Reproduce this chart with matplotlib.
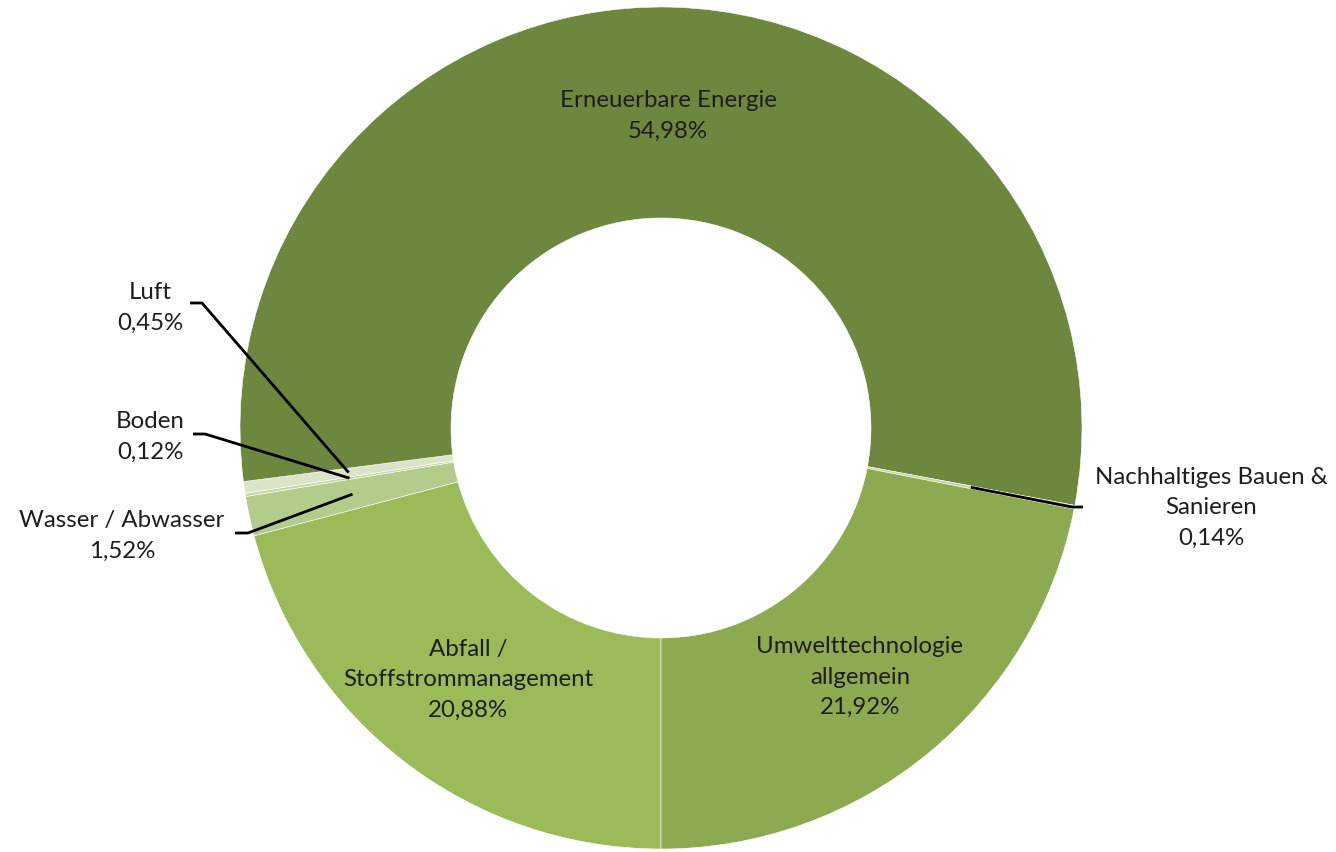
import numpy as np
import matplotlib
matplotlib.use("Agg")
import matplotlib.pyplot as plt

plt.rcParams['font.family'] = ['Lato', 'DejaVu Sans']

# order: clockwise starting at 6 o'clock
categories = ['Abfall /\nStoffstrommanagement', 'Wasser / Abwasser', 'Boden', 'Luft',
              'Erneuerbare Energie', 'Nachhaltiges Bauen &\nSanieren',
              'Umwelttechnologie\nallgemein']
shares = [20.88, 1.52, 0.12, 0.45, 54.98, 0.14, 21.92]
pct_labels = ['20,88%', '1,52%', '0,12%', '0,45%', '54,98%', '0,14%', '21,92%']
colors = ['#9BBB59', '#B3CB8B', '#C6D8A6', '#DAE5C7', '#6E873F', '#C0D49C', '#8DAA51']

W, H = 1336, 852
fig = plt.figure(figsize=(W / 100, H / 100), dpi=100)
ax = fig.add_axes([0, 0, 1, 1])

R = 421
ring = 211
cx, cy = 661, H - 428

wedges, _ = ax.pie(shares, colors=colors, startangle=-90, counterclock=False,
                   radius=R, center=(cx, cy), frame=True,
                   wedgeprops=dict(width=ring, edgecolor='white', linewidth=0.4))

txt = dict(ha='center', va='center', fontsize=17.3, color='#1e1e1e', linespacing=1.55)

# labels inside the ring
inside = {4: (668, H - 116), 6: (860, H - 677), 0: (468, H - 680)}
for i, (x, y) in inside.items():
    ax.text(x, y, categories[i] + '\n' + pct_labels[i], **txt)

# labels outside with leader lines: text pos, elbow, line end
outside = {
    3: ((150, H - 308), (202, H - 303), (190, H - 303)),
    2: ((150, H - 437), (205, H - 434), (193, H - 434)),
    1: ((122, H - 536), (248, H - 533), (235, H - 533)),
    5: ((1211, H - 508), (1072, H - 507), (1083, H - 507)),
}
rmid = R - ring / 2
for i, (tpos, elbow, end) in outside.items():
    w = wedges[i]
    ang = np.deg2rad((w.theta1 + w.theta2) / 2)
    ax_, ay_ = cx + rmid * np.cos(ang), cy + rmid * np.sin(ang)
    ax.plot([ax_, elbow[0], end[0]], [ay_, elbow[1], end[1]], color='black', lw=2,
            solid_capstyle='butt')
    ax.text(tpos[0], tpos[1], categories[i] + '\n' + pct_labels[i], **txt)

ax.set_xlim(0, W)
ax.set_ylim(0, H)
ax.set_aspect('equal')
ax.axis('off')

fig.savefig('out.png', dpi=100, facecolor='white')
